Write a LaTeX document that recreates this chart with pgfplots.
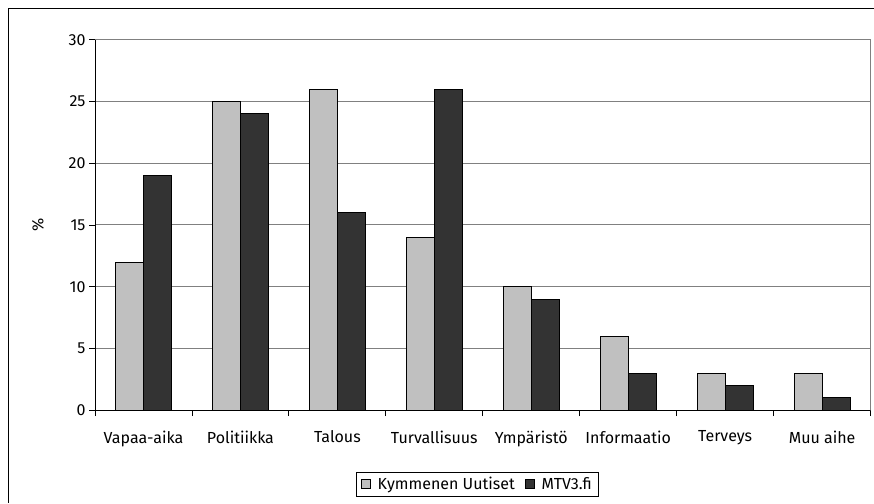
\documentclass[border=0pt]{standalone}
\usepackage{pgfplots}
\pgfplotsset{compat=1.18}
\usepackage{fontspec}
\setmainfont{Fira Sans}
\definecolor{lightbar}{HTML}{C0C0C0}
\definecolor{darkbar}{HTML}{333333}
\definecolor{gridgray}{HTML}{808080}
\begin{document}
\begin{tikzpicture}[x=1bp,y=1bp]
\path (0,0) rectangle (874,503);
\draw[black,line width=1bp] (8.5,0) -- (8.5,494) -- (874,494);
\begin{axis}[
  at={(98,74.9)}, anchor=south west,
  scale only axis, width=776bp, height=370.7bp,
  font=\fontsize{16bp}{19bp}\selectfont,
  /pgf/number format/assume math mode=true,
  ybar=0pt, bar width=28bp,
  xmin=-0.5, xmax=7.5, ymin=0, ymax=30,
  xtick={0,...,7},
  xticklabels={Vapaa-aika,Politiikka,Talous,Turvallisuus,Ympäristö,Informaatio,Terveys,Muu aihe},
  minor xtick={-0.5,0.5,...,7.5},
  major x tick style={draw=none},
  minor tick length=6bp,
  ytick={0,5,...,30},
  major tick length=6bp,
  tick align=outside,
  xtick pos=bottom, ytick pos=left,
  tick style={black, line width=0.8bp},
  ymajorgrids, major grid style={gridgray, line width=1bp},
  axis line style={gridgray, line width=1bp},
  xticklabel style={yshift=-11bp},
  ylabel={\%},
  every axis y label/.style={at={(-57bp,185.35bp)}, anchor=center, rotate=90},
  legend style={at={(0.493,-0.200)}, anchor=center, legend columns=2, draw=black, line width=0.8bp,
    font=\fontsize{16bp}{19bp}\selectfont, inner xsep=5bp, inner ysep=3bp,
    /tikz/every odd column/.append style={column sep=5bp},
    /tikz/every even column/.append style={column sep=8bp}},
  legend image code/.code={\draw[#1, line width=0.8bp] (0bp,-4.5bp) rectangle (9bp,4.5bp);},
]
\addplot[fill=lightbar, draw=black, line width=0.8bp] coordinates {(0,12) (1,25) (2,26) (3,14) (4,10) (5,6) (6,3) (7,3)};
\addplot[fill=darkbar, draw=black, line width=0.8bp] coordinates {(0,19) (1,24) (2,16) (3,26) (4,9) (5,3) (6,2) (7,1)};
\legend{Kymmenen Uutiset, MTV3.fi}
\draw[black, line width=1bp] (rel axis cs:0,1) -- (rel axis cs:0,0) -- (rel axis cs:1,0);
\end{axis}
\end{tikzpicture}
\end{document}
